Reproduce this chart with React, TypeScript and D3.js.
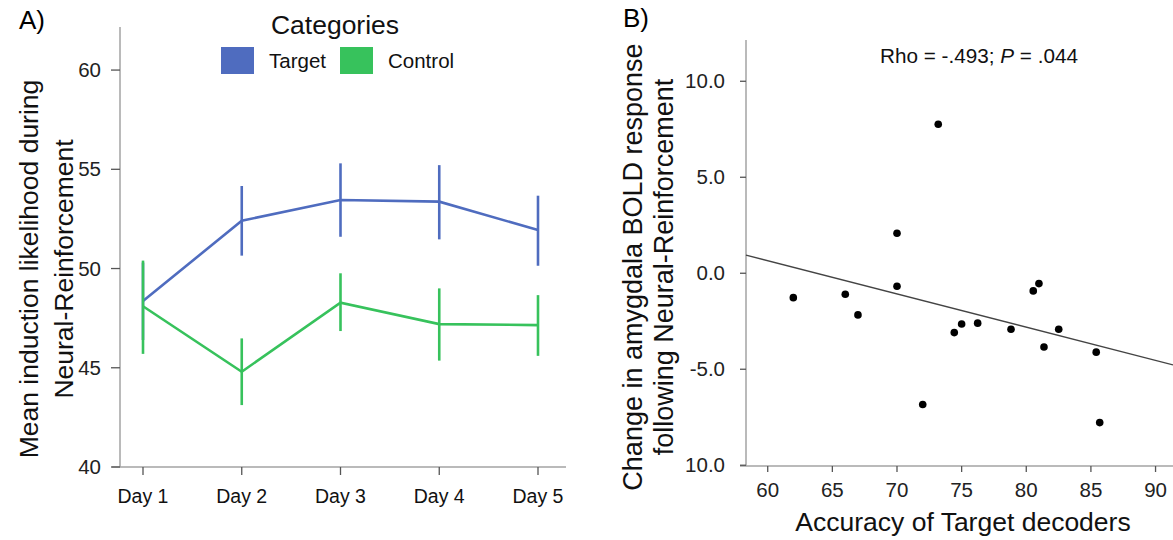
import * as d3 from 'd3'
import { useEffect, useRef } from 'react'

// Panel A: mean induction likelihood per day
const days = ['Day 1', 'Day 2', 'Day 3', 'Day 4', 'Day 5']
const targetMean = [48.36, 52.41, 53.45, 53.37, 51.94]
const targetLow = [46.4, 50.65, 51.6, 51.47, 50.14]
const targetHigh = [50.3, 54.16, 55.3, 55.21, 53.67]
const controlMean = [48.1, 44.8, 48.28, 47.2, 47.15]
const controlLow = [45.7, 43.12, 46.85, 45.36, 45.6]
const controlHigh = [50.4, 46.48, 49.76, 49.0, 48.66]
const yTicksA = [40, 45, 50, 55, 60]

// Panel B: decoder accuracy vs change in amygdala response
const accuracy = [61.98, 66.0, 66.98, 70.0, 71.99, 74.43, 75.0, 76.24, 78.82, 80.54, 80.98, 81.37, 82.51, 85.41, 85.68, 73.19, 70.0]
const boldChange = [-1.27, -1.09, -2.17, -0.68, -6.84, -3.09, -2.64, -2.6, -2.92, -0.92, -0.54, -3.84, -2.92, -4.11, -7.78, 7.76, 2.08]
const fitIntercept = 11.03
const fitSlope = -0.173
const xTicksB = [60, 65, 70, 75, 80, 85, 90]
const yTicksB = [10, 5, 0, -5, -10]
const yTickLabelsB = ['10.0', '5.0', '0.0', '-5.0', '10.0'] // bottom label printed without the minus in the source

const BLUE = '#4f6cbf'
const GREEN = '#37c25c'
const FONT = '"Liberation Sans", Arial, sans-serif'

export default function App() {
    const svgRef = useRef<SVGSVGElement>(null)

    useEffect(() => {
        const svg = d3.select(svgRef.current)
        svg.selectAll('*').remove()
        svg.style('font-family', FONT)

        // ---------- Panel A ----------
        const x = d3.scalePoint<string>().domain(days).range([143, 538])
        const y = d3.scaleLinear().domain([40, 62.17]).range([467, 27])
        const gA = svg.append('g')

        gA.append('text').attr('x', 19).attr('y', 29).attr('font-size', 26).text('A)')

        // axes
        gA.append('line').attr('x1', 120).attr('x2', 120).attr('y1', 27).attr('y2', 467)
            .attr('stroke', '#a3a3a3').attr('stroke-width', 1.5)
        gA.append('line').attr('x1', 112).attr('x2', 566).attr('y1', 467).attr('y2', 467)
            .attr('stroke', '#a3a3a3').attr('stroke-width', 1.5)
        yTicksA.forEach(t => {
            gA.append('line').attr('x1', 111).attr('x2', 120).attr('y1', y(t)).attr('y2', y(t))
                .attr('stroke', '#555').attr('stroke-width', 1.3)
            gA.append('text').attr('x', 101).attr('y', y(t)).attr('dy', '0.35em')
                .attr('text-anchor', 'end').attr('font-size', 20.5).attr('fill', '#222').text(t)
        })
        days.forEach(d => {
            gA.append('line').attr('x1', x(d)!).attr('x2', x(d)!).attr('y1', 467).attr('y2', 475)
                .attr('stroke', '#555').attr('stroke-width', 1.3)
            gA.append('text').attr('x', x(d)!).attr('y', 503).attr('text-anchor', 'middle')
                .attr('font-size', 19.5).attr('fill', '#111').text(d)
        })

        const yLabA = gA.append('text').attr('transform', 'translate(0,269) rotate(-90)')
            .attr('text-anchor', 'middle').attr('font-size', 26.5).attr('fill', '#111')
        yLabA.append('tspan').attr('x', 0).attr('y', 38).text('Mean induction likelihood during')
        yLabA.append('tspan').attr('x', 0).attr('y', 73).text('Neural-Reinforcement')

        // series
        const series = [
            { mean: targetMean, low: targetLow, high: targetHigh, color: BLUE },
            { mean: controlMean, low: controlLow, high: controlHigh, color: GREEN },
        ]
        const line = d3.line<number>().x((_, i) => x(days[i])!).y(v => y(v))
        series.forEach(s => {
            gA.append('path').datum(s.mean).attr('d', line).attr('fill', 'none')
                .attr('stroke', s.color).attr('stroke-width', 2.6)
            gA.selectAll(null).data(days).join('line')
                .attr('x1', d => x(d)!).attr('x2', d => x(d)!)
                .attr('y1', (_, i) => y(s.high[i])).attr('y2', (_, i) => y(s.low[i]))
                .attr('stroke', s.color).attr('stroke-width', 2.6)
        })

        // legend
        gA.append('text').attr('x', 335).attr('y', 34).attr('text-anchor', 'middle')
            .attr('font-size', 26.5).attr('fill', '#111').text('Categories')
        const legend = [{ name: 'Target', color: BLUE, x: 221 }, { name: 'Control', color: GREEN, x: 340 }]
        legend.forEach(l => {
            gA.append('rect').attr('x', l.x).attr('y', 47).attr('width', 33).attr('height', 27).attr('fill', l.color)
            gA.append('text').attr('x', l.x + 48).attr('y', 68).attr('font-size', 20.5).attr('fill', '#111').text(l.name)
        })

        // ---------- Panel B ----------
        const xb = d3.scaleLinear().domain([58.32, 91.35]).range([746, 1173])
        const yb = d3.scaleLinear().domain([-10.04, 12.15]).range([466, 40])
        const gB = svg.append('g')

        gB.append('text').attr('x', 623).attr('y', 27).attr('font-size', 26).text('B)')

        gB.append('line').attr('x1', 746).attr('x2', 746).attr('y1', 40).attr('y2', 466)
            .attr('stroke', '#a3a3a3').attr('stroke-width', 1.5)
        gB.append('line').attr('x1', 740).attr('x2', 1173).attr('y1', 466).attr('y2', 466)
            .attr('stroke', '#a3a3a3').attr('stroke-width', 1.5)
        yTicksB.forEach((t, i) => {
            gB.append('line').attr('x1', 740).attr('x2', 746).attr('y1', yb(t)).attr('y2', yb(t))
                .attr('stroke', '#555').attr('stroke-width', 1.3)
            gB.append('text').attr('x', 725).attr('y', yb(t)).attr('dy', '0.35em')
                .attr('text-anchor', 'end').attr('font-size', 20.5).attr('fill', '#222').text(yTickLabelsB[i])
        })
        xTicksB.forEach(t => {
            gB.append('line').attr('x1', xb(t)).attr('x2', xb(t)).attr('y1', 466).attr('y2', 472)
                .attr('stroke', '#555').attr('stroke-width', 1.3)
            gB.append('text').attr('x', xb(t)).attr('y', 497).attr('text-anchor', 'middle')
                .attr('font-size', 20.5).attr('fill', '#222').text(t)
        })

        const yLabB = gB.append('text').attr('transform', 'translate(0,267) rotate(-90)')
            .attr('text-anchor', 'middle').attr('font-size', 27).attr('fill', '#111')
        yLabB.append('tspan').attr('x', 0).attr('y', 642).text('Change in amygdala BOLD response')
        yLabB.append('tspan').attr('x', 0).attr('y', 673).text('following Neural-Reinforcement')

        gB.append('text').attr('x', 963).attr('y', 531).attr('text-anchor', 'middle')
            .attr('font-size', 26.5).attr('fill', '#111').text('Accuracy of Target decoders')

        // fit line
        const [x0, x1] = xb.domain()
        gB.append('line')
            .attr('x1', xb(x0)).attr('y1', yb(fitIntercept + fitSlope * x0))
            .attr('x2', xb(x1)).attr('y2', yb(fitIntercept + fitSlope * x1))
            .attr('stroke', '#444').attr('stroke-width', 1.4)

        gB.selectAll('circle').data(accuracy).join('circle')
            .attr('cx', d => xb(d)).attr('cy', (_, i) => yb(boldChange[i]))
            .attr('r', 3.8).attr('fill', '#000')

        const rho = gB.append('text').attr('x', 979).attr('y', 63).attr('text-anchor', 'middle')
            .attr('font-size', 20.7).attr('fill', '#111')
        rho.append('tspan').text('Rho = -.493; ')
        rho.append('tspan').attr('font-style', 'italic').text('P')
        rho.append('tspan').text(' = .044')
    }, [])

    return (
        <svg ref={svgRef} width={1173} height={540}
            style={{ position: 'absolute', left: 0, top: 0, background: '#fff' }} />
    )
}
